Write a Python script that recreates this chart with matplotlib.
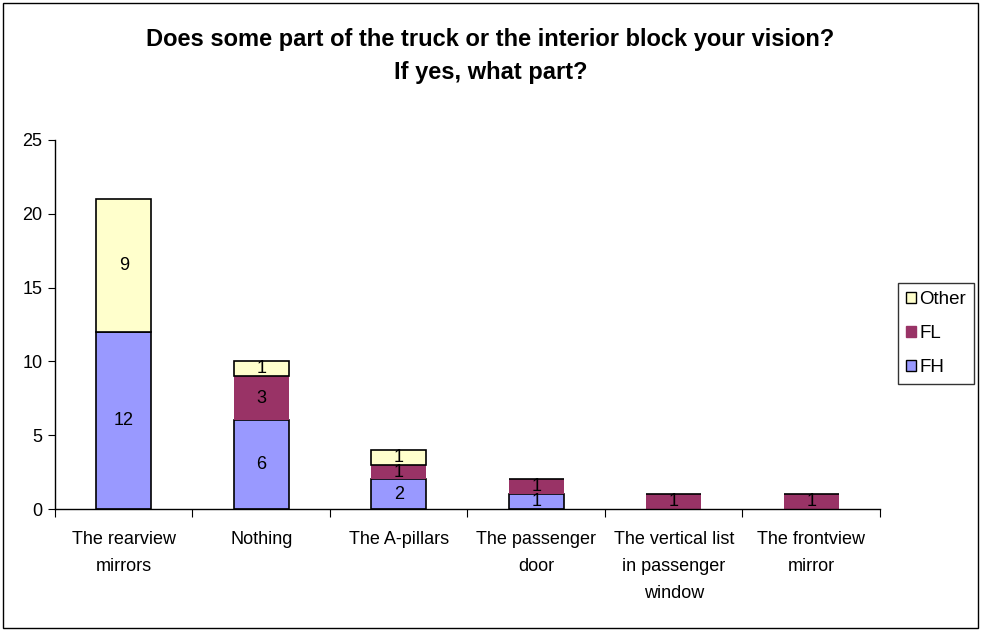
import matplotlib.pyplot as plt
import matplotlib.patches as mpatches
import numpy as np

plt.rcParams['font.family'] = ['Liberation Sans', 'DejaVu Sans']

categories = ["The rearview\nmirrors", "Nothing", "The A-pillars",
              "The passenger\ndoor", "The vertical list\nin passenger\nwindow",
              "The frontview\nmirror"]
fh = [12, 6, 2, 1, 0, 0]
fl = [0, 3, 1, 1, 1, 1]
other = [9, 1, 1, 0, 0, 0]

series = [("FH", fh, "#9999FF", "black"),
          ("FL", fl, "#993366", "none"),
          ("Other", other, "#FFFFCC", "black")]

fig = plt.figure(figsize=(9.81, 6.31), dpi=100)
ax = fig.add_axes([0.056, 0.1933, 0.841, 0.585])

x = np.arange(len(categories))
bottom = np.zeros(len(categories))
handles = []
for name, vals, color, edge in series:
    vals = np.array(vals)
    ax.bar(x, vals, width=0.4, bottom=bottom, color=color,
           edgecolor=edge, linewidth=1.2, zorder=2)
    for xi, v, b in zip(x, vals, bottom):
        if v > 0:
            ax.text(xi, b + v / 2, str(v), ha='center', va='center',
                    fontsize=13, color='black', zorder=3)
    bottom = bottom + vals
    handles.append(mpatches.Patch(facecolor=color,
                                  edgecolor='black' if edge != 'none' else color,
                                  linewidth=1, label=name))

ax.set_xlim(-0.5, len(categories) - 0.5)
ax.set_ylim(0, 25)
ax.set_yticks(range(0, 26, 5))
ax.tick_params(axis='y', labelsize=13, length=5, direction='out', pad=4)
ax.set_xticks(np.arange(-0.5, len(categories), 1.0))
ax.set_xticklabels([])
ax.tick_params(axis='x', length=6, direction='out')
for xi, lab in zip(x, categories):
    ax.text(xi, -1.5, lab, ha='center', va='top', fontsize=13,
            linespacing=1.75)

for side in ['top', 'right']:
    ax.spines[side].set_visible(False)
ax.spines['left'].set_linewidth(1)
ax.spines['bottom'].set_linewidth(1)

fig.text(0.5, 0.911, "Does some part of the truck or the interior block your vision?\nIf yes, what part?",
         ha='center', va='center', fontsize=17, fontweight='bold', linespacing=1.55)

leg = fig.legend(handles=handles[::-1], loc='upper left',
                 bbox_to_anchor=(0.915, 0.552), frameon=True, fancybox=False,
                 edgecolor='black', fontsize=13.5, handlelength=0.55,
                 handleheight=0.55, handletextpad=0.15, labelspacing=0.9,
                 borderpad=0.45, borderaxespad=0)
leg.get_frame().set_linewidth(1)

border = mpatches.Rectangle((0.003, 0.005), 0.994, 0.99, transform=fig.transFigure,
                            fill=False, edgecolor='black', linewidth=1)
fig.patches.append(border)

fig.savefig("out.png", dpi=100)
